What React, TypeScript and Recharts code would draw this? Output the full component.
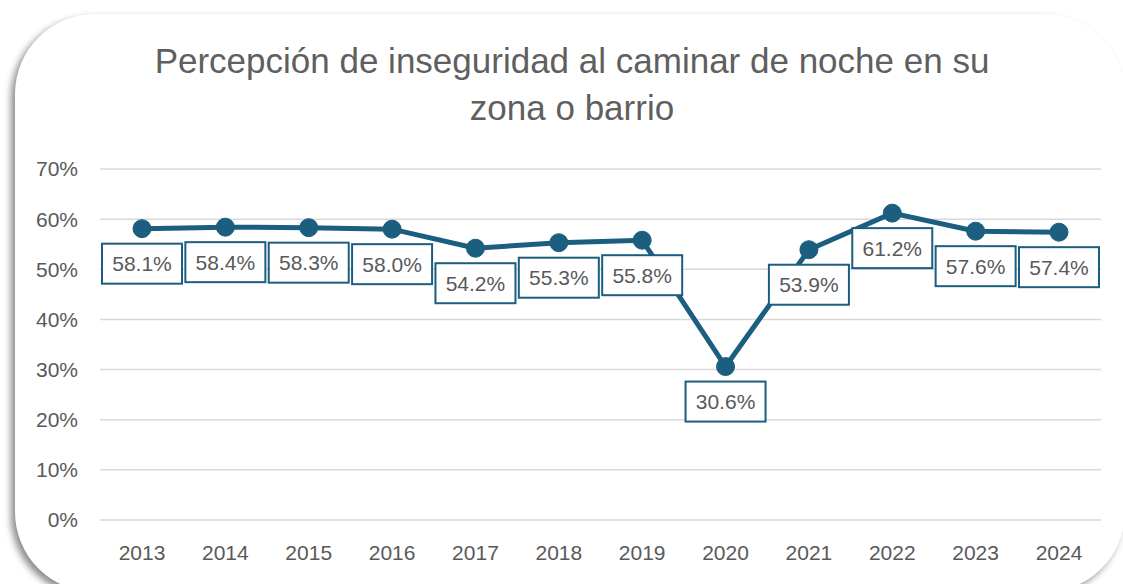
import React from 'react';
import { LineChart, Line, XAxis, YAxis, CartesianGrid, LabelList } from 'recharts';

const years = ['2013', '2014', '2015', '2016', '2017', '2018', '2019', '2020', '2021', '2022', '2023', '2024'];
const values = [58.1, 58.4, 58.3, 58.0, 54.2, 55.3, 55.8, 30.6, 53.9, 61.2, 57.6, 57.4];
const yTicks = [0, 10, 20, 30, 40, 50, 60, 70];
const titleLines = ['Percepción de inseguridad al caminar de noche en su', 'zona o barrio'];

const data = years.map((y, i) => ({ year: y, value: values[i] }));

const LINE = '#1b5e7f';
const TEXT = '#595959';
const FONT = '"Liberation Sans", Arial, sans-serif';

const BoxLabel = (props: any) => {
  const { x, y, value } = props;
  const w = 80;
  const h = 40;
  const top = y + 15;
  return (
    <g>
      <rect x={x - w / 2} y={top} width={w} height={h} fill="#ffffff" stroke={LINE} strokeWidth={2} />
      <text x={x} y={top + h / 2} textAnchor="middle" dominantBaseline="central" fill={TEXT} fontSize={21} fontFamily={FONT}>
        {`${Number(value).toFixed(1)}%`}
      </text>
    </g>
  );
};

export default function App() {
  return (
    <div style={{ position: 'absolute', left: 0, top: 0, width: 1123, height: 584, overflow: 'hidden', background: '#ffffff' }}>
      <div
        style={{
          position: 'absolute',
          left: 15,
          top: 14,
          width: 1110,
          height: 578,
          borderRadius: 80,
          background: '#ffffff',
          boxShadow: '-4px 4px 7px rgba(0,0,0,0.45)',
        }}
      />
      <div
        style={{
          position: 'absolute',
          left: 22,
          width: 1100,
          top: 37,
          textAlign: 'center',
          fontFamily: FONT,
          fontSize: 35,
          lineHeight: '47px',
          color: '#5f5f5f',
        }}
      >
        {titleLines.map((t) => (
          <div key={t}>{t}</div>
        ))}
      </div>
      <div style={{ position: 'absolute', left: 0, top: 0 }}>
        <LineChart width={1123} height={584} data={data} margin={{ top: 169, right: 22, bottom: 24, left: 0 }}>
          <CartesianGrid vertical={false} stroke="#d9d9d9" strokeWidth={1.5} />
          <XAxis
            dataKey="year"
            axisLine={false}
            tickLine={false}
            height={40}
            tickMargin={19}
            padding={{ left: 42, right: 42 }}
            tick={{ fill: TEXT, fontSize: 21, fontFamily: FONT }}
            interval={0}
          />
          <YAxis
            domain={[0, 70]}
            ticks={yTicks}
            axisLine={false}
            tickLine={false}
            width={100}
            tickMargin={16}
            tickFormatter={(v: number) => `${v}%`}
            tick={{ fill: TEXT, fontSize: 21, fontFamily: FONT }}
          />
          <Line
            type="linear"
            dataKey="value"
            stroke={LINE}
            strokeWidth={5}
            dot={{ r: 9, fill: LINE, stroke: LINE, strokeWidth: 1 }}
            isAnimationActive={false}
          >
            <LabelList dataKey="value" content={<BoxLabel />} />
          </Line>
        </LineChart>
      </div>
    </div>
  );
}
